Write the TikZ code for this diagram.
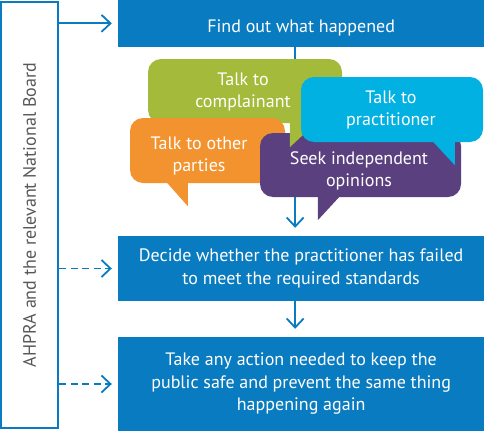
\documentclass[tikz,border=0pt]{standalone}
\usepackage{fontspec}
\setmainfont{PT Sans}
\usetikzlibrary{arrows.meta,calc}
\definecolor{boxblue}{RGB}{9,123,192}
\definecolor{bgreen}{RGB}{164,186,58}
\definecolor{borange}{RGB}{242,147,48}
\definecolor{bcyan}{RGB}{0,177,226}
\definecolor{bpurple}{RGB}{91,64,128}
\definecolor{greytext}{RGB}{88,88,88}
\tikzset{
  mainbox/.style={fill=boxblue, text=white, align=center, minimum width=365.7pt, inner sep=0pt, font=\fontsize{18}{22.5}\selectfont, execute at begin node={\rule{0pt}{21pt}}},
  sidebox/.style={draw=boxblue, line width=2.3pt, minimum width=56.8pt, minimum height=426pt, inner sep=0pt},
  bubble/.style={rounded corners=13pt, inner sep=0pt},
  btext/.style={text=white, align=center, inner sep=0pt, font=\fontsize{18}{22}\selectfont},
  arr/.style={draw=boxblue, line width=1.8pt, -{Straight Barb[length=9pt,width=17pt,line width=1.8pt]}},
  dasharr/.style={arr, dash pattern=on 7pt off 4.5pt},
}
\begin{document}
\begin{tikzpicture}[x=1pt,y=-1pt]
\useasboundingbox (0,0) rectangle (484,431);
% main boxes
\node[mainbox, minimum height=46.7pt] (find) at (301.15,23.35) {Find out what happened};
\node[mainbox, minimum height=65pt] (decide) at (301.15,268.5) {Decide whether the practitioner has failed\\to meet the required standards};
\node[mainbox, minimum height=94pt] (act) at (301.15,384) {Take any action needed to keep the\\public safe and prevent the same thing\\happening again};
% side box
\node[sidebox] (side) at (29.6,215) {};
\node[rotate=90, text=greytext, font=\fontsize{18}{20}\selectfont] (sidetext) at (side.center) {AHPRA and the relevant National Board};
% connectors
\draw[arr, shorten >=8pt] ([xshift=-6pt]find.south) -- ([xshift=-6pt]decide.north);
\draw[arr, shorten >=8pt] ([xshift=-6pt]decide.south) -- ([xshift=-6pt]act.north);
\draw[arr, shorten >=6.3pt] (side.east |- find.west) -- (find.west);
\draw[dasharr, shorten >=6.3pt] (side.east |- decide.west) -- (decide.west);
\draw[dasharr, shorten >=6.3pt] (side.east |- act.west) -- (act.west);
% bubbles
\node[bubble, fill=bgreen, minimum width=194pt, minimum height=64pt] (green) at (245,91) {};
\node[btext] (greentext) at (243,92) {Talk to\\complainant};
\node[bubble, fill=borange, minimum width=155pt, minimum height=65pt] (orange) at (207.5,150.5) {};
\fill[borange] (orange.south west) ++(35,-3) -- ++(23,26) -- ++(0,-26) -- cycle;
\node[btext] (orangetext) at (199,156) {Talk to other\\parties};
\node[bubble, fill=bpurple, minimum width=201pt, minimum height=64pt] (purple) at (360.5,165) {};
\fill[bpurple] (purple.south west) ++(58,-3) -- ++(0,26) -- ++(24,-26) -- cycle;
\node[btext] (purpletext) at (359,170.5) {Seek independent\\opinions};
\fill[bgreen] (green.south west) ++(142,-8) -- ++(0,32) -- ++(29,-27) -- cycle;
\node[bubble, fill=bcyan, minimum width=182pt, minimum height=65pt] (cyan) at (392,109.5) {};
\fill[bcyan] (cyan.south west) ++(129,-4) -- ++(25,27) -- ++(0,-27) -- cycle;
\node[btext] (cyantext) at (391,109.5) {Talk to\\practitioner};
\end{tikzpicture}
\end{document}
